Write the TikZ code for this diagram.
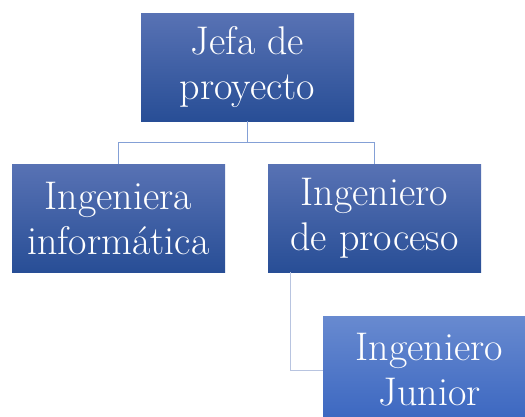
\documentclass[tikz,border=0pt]{standalone}
\usetikzlibrary{positioning}
\definecolor{cargoarriba}{RGB}{88,114,180}
\definecolor{cargoabajo}{RGB}{40,78,150}
\definecolor{juniorarriba}{RGB}{104,138,208}
\definecolor{juniorabajo}{RGB}{58,102,192}
\definecolor{linea}{RGB}{132,160,214}
\definecolor{lineaclara}{RGB}{184,196,224}
\tikzset{
  cargo/.style={rectangle, minimum width=213pt, minimum height=108pt, inner sep=0pt,
    top color=cargoarriba, bottom color=cargoabajo, text=white, align=center,
    font=\fontsize{40}{45}\selectfont},
  junior/.style={cargo, top color=juniorarriba, bottom color=juniorabajo}
}
\begin{document}
\begin{tikzpicture}[x=1pt,y=-1pt]
    \useasboundingbox (0,0) rectangle (525,416);
    \clip (0,0) rectangle (525,416);
    \node[cargo] (jefa) at (247.5,67) {Jefa de\\proyecto};
    \node[cargo] (informatica) at (118.5,218) {Ingeniera\\informática};
    \node[cargo] (proceso) at (374.5,218) {Ingeniero\\de proceso};
    \node[junior] (ingjunior) at (429.5,370) {Ingeniero\\Junior};
    \coordinate (union) at (247.5,142);
    \draw[linea,line width=1pt] (jefa.south) -- (union) -| (informatica.north);
    \draw[linea,line width=1pt] (union) -| (proceso.north);
    \draw[lineaclara,line width=1pt] ([xshift=23pt]proceso.south west) |- (ingjunior.west);
\end{tikzpicture}
\end{document}
